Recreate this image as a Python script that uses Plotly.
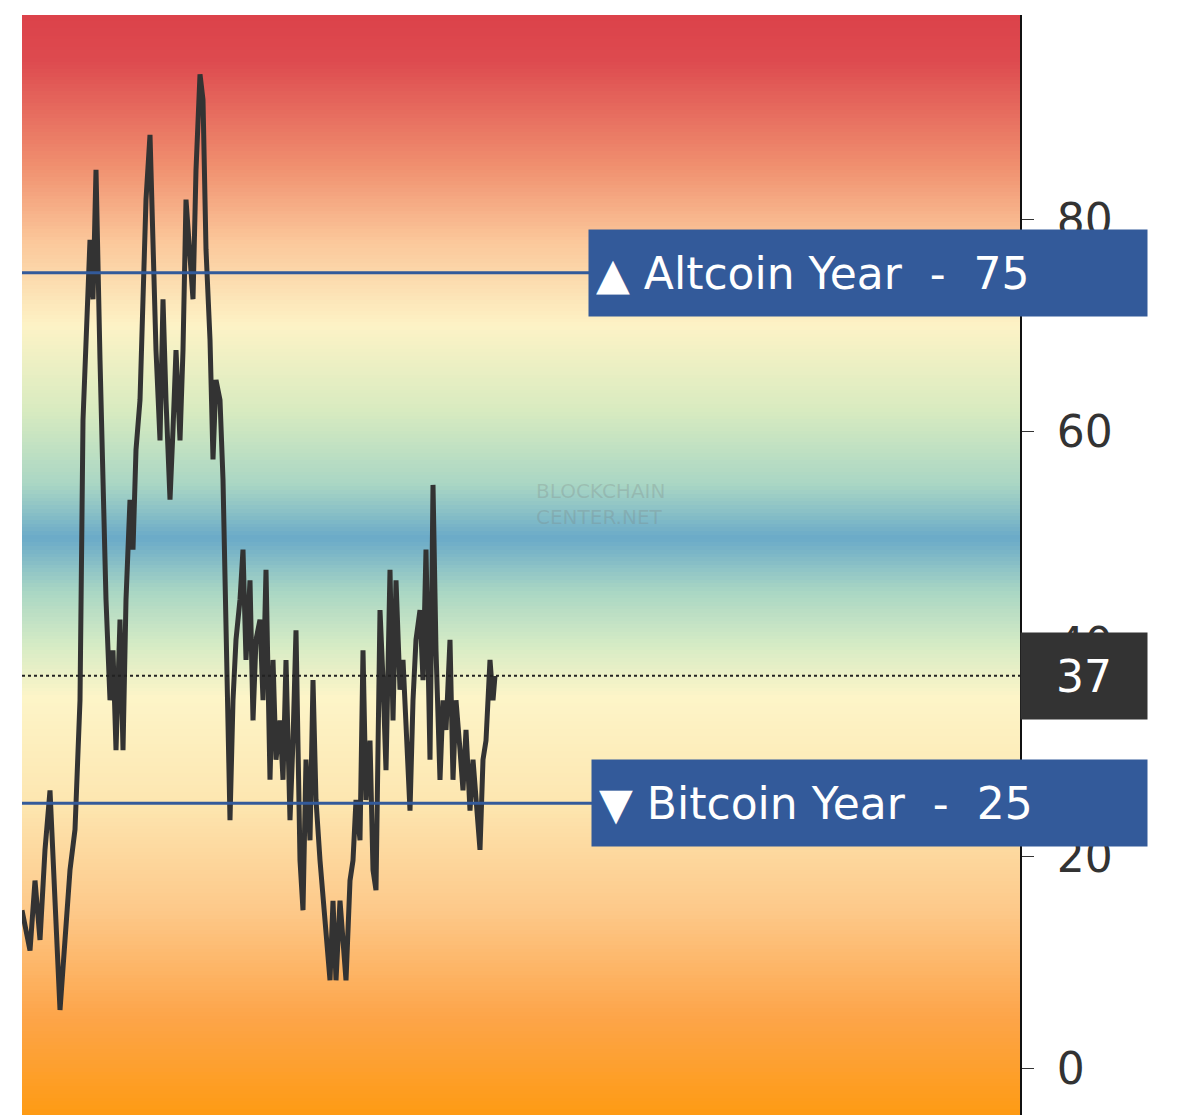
import plotly.graph_objects as go
import numpy as np

days = [0,8,13,18,23,28,33,38,43,48,53,58,61,65,68,71,74,78,81,84,88,91,94,98,101,104,108,111,114,118,121,124,128,131,134,138,141,144,148,151,154,158,161,164,168,171,174,178,181,184,188,191,194,198,201,204,208,211,214,218,221,224,228,231,234,238,241,244,248,251,254,258,261,264,268,271,274,278,281,284,288,291,294,298,301,304,308,311,314,318,321,324,328,331,334,338,341,344,348,351,354,358,361,364,368,371,374,378,381,384,388,391,394,398,401,404,408,411,414,418,421,424,428,431,434,438,441,444,448,451,454,458,461,464,468,471,473]
index = [14.9,11.1,17.7,12.1,20.6,26.2,15.8,5.5,12.1,18.7,22.5,34.7,61.1,69.6,78.1,72.5,84.7,66.8,53.6,44.2,34.7,39.4,30.0,42.3,30.0,44.2,53.6,48.9,58.3,63.0,72.5,81.9,88.0,77.2,67.7,59.2,72.5,63.0,53.6,60.2,67.7,59.2,67.7,81.9,76.2,72.5,84.7,93.7,91.3,77.2,68.7,57.4,64.9,63.0,55.5,40.4,23.4,34.7,40.4,44.2,48.9,38.5,46.0,32.8,40.4,42.3,34.7,47.0,27.2,38.5,29.1,32.8,27.2,38.5,23.4,30.9,41.3,19.6,14.9,29.1,21.5,36.6,25.3,19.6,15.8,12.1,8.3,15.8,8.3,15.8,11.1,8.3,17.7,19.6,25.3,21.5,39.4,25.3,30.9,18.7,16.8,43.2,36.6,28.1,47.0,32.8,46.0,35.7,38.5,32.8,24.3,34.7,40.4,43.2,36.6,48.9,29.1,55.0,39.4,27.2,34.7,31.9,40.4,27.2,34.7,30.0,26.2,31.9,24.3,29.1,25.3,20.6,29.1,30.9,38.5,34.7,37.0]
current = 37
alt_level = 75
btc_level = 25
yticks = [0, 20, 40, 60, 80]

bg_levels = [-5, 5, 15, 25, 35, 40, 45, 50, 55, 62, 70, 78, 85, 95, 100]
bg_colors = ["#fe9a10", "#fda54a", "#fdc98a", "#fde6b0", "#fdf5c8", "#d5ebc5", "#a9d6c4",
             "#6aaac8", "#a9d6c4", "#d8ebc0", "#fdf3c6", "#fbc79a", "#f0906f", "#dd4a4f", "#dc4149"]
lo, hi = bg_levels[0], bg_levels[-1]
cs = [[(v - lo) / (hi - lo), c] for v, c in zip(bg_levels, bg_colors)]
ys = np.linspace(lo, hi, 300)

fig = go.Figure()
fig.add_trace(go.Heatmap(x=[0, 998], y=ys, z=[[v, v] for v in ys], colorscale=cs,
                         zmin=lo, zmax=hi, showscale=False, hoverinfo="skip"))
fig.add_trace(go.Scatter(x=days, y=index, mode="lines", line=dict(color="#333333", width=5)))

fig.add_hline(y=alt_level, line=dict(color="#335a9a", width=3))
fig.add_hline(y=btc_level, line=dict(color="#335a9a", width=3))
fig.add_hline(y=current, line=dict(color="#222", width=2, dash="dot"))

font = dict(color="white", size=44, family="DejaVu Sans")
fig.add_annotation(xref="paper", yref="y", x=1.128, xanchor="right", y=alt_level,
                   text="▲ Altcoin Year  -  75", showarrow=False, bgcolor="#335a9a", font=font,
                   width=544, height=72, borderpad=7, align="left")
fig.add_annotation(xref="paper", yref="y", x=1.128, xanchor="right", y=btc_level,
                   text="▼ Bitcoin Year  -  25", showarrow=False, bgcolor="#335a9a", font=font,
                   width=541, height=72, borderpad=7, align="left")
fig.add_annotation(xref="paper", yref="y", x=1.128, xanchor="right", y=current, text=str(current),
                   showarrow=False, bgcolor="#333333", font=font,
                   width=112, height=72, borderpad=7)
fig.add_annotation(xref="paper", yref="paper", x=0.58, y=0.555, text="BLOCKCHAIN<br>CENTER.NET",
                   showarrow=False, font=dict(color="rgba(120,120,120,0.25)", size=20, family="DejaVu Sans"),
                   align="left")

fig.update_layout(width=1200, height=1115, margin=dict(l=14, r=188, t=7, b=8, autoexpand=False),
                  paper_bgcolor="white", plot_bgcolor="white", showlegend=False)
fig.update_xaxes(range=[0, 998], visible=False)
fig.update_yaxes(range=[-4.4, 99.3], side="right", tickvals=yticks, ticks="outside", ticklen=12,
                 ticklabelstandoff=14,
                 tickcolor="#333", showline=True, linecolor="#111", linewidth=2, showgrid=False,
                 zeroline=False, tickfont=dict(size=44, color="#333", family="DejaVu Sans"))
fig.write_html("out.html")
